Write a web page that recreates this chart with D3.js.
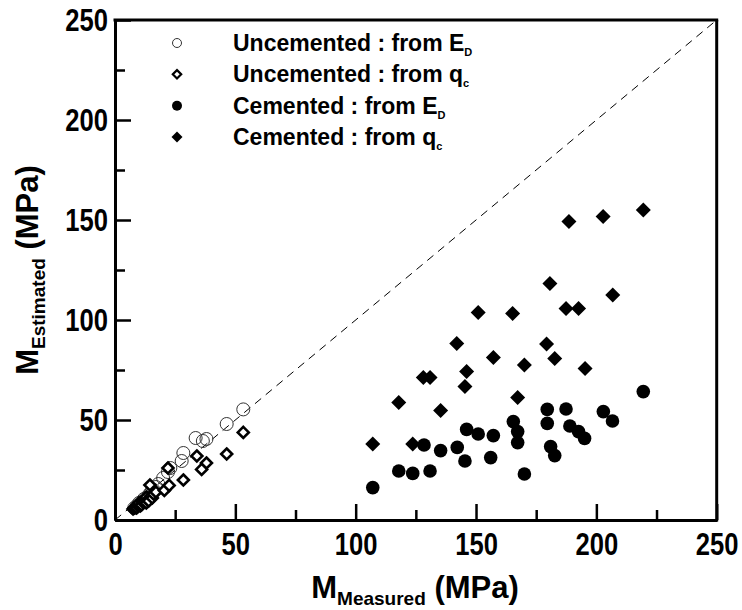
<!DOCTYPE html>
<html>
<head>
<meta charset="utf-8">
<title>M estimated vs measured</title>
<script src="https://d3js.org/d3.v7.min.js"></script>
<style>
  body { margin: 0; background: #fff; }
  text { font-family: "Liberation Sans", Arial, sans-serif; font-weight: bold; fill: #000; }
</style>
</head>
<body>
<script>
// data: [M measured, M estimated] in MPa
var uncementedED = [
  [8, 6], [9, 7], [10, 8.5], [11, 9], [12, 10.5], [13, 11], [14, 12.5], [15, 14],
  [16, 15], [17, 16.5], [18, 18], [20, 21], [22, 24], [23, 26], [27.7, 29.5],
  [28.4, 33.5], [33.5, 41], [36.5, 39.5], [38, 40.5], [46.4, 48], [53.3, 55.3]
];
var uncementedQc = [
  [7.5, 5.5], [8, 6], [8.5, 6.5], [9, 6], [9.5, 7], [10, 8.5], [10.5, 7], [11, 7.5],
  [11.5, 9], [12, 9], [12.5, 10.5], [13, 8.5], [13, 11.5], [13.5, 10], [14, 9.5],
  [15, 12], [15.5, 11], [14.5, 17.5], [16, 13], [17, 14], [20.5, 14.8],
  [22.5, 17.3], [22, 26], [28.4, 20], [34, 32], [38, 28.5], [36, 25.3],
  [46.4, 33], [53.3, 43.8]
];
var cementedED = [
  [107.1, 16.2], [117.9, 24.5], [123.7, 23.3], [130.9, 24.5], [128.4, 37.5],
  [135.3, 34.7], [142.2, 36.3], [145.4, 29.5], [146.1, 45.3], [150.9, 43],
  [157.2, 42.2], [156.1, 31.2], [165.5, 49.2], [167.3, 44.2], [167.3, 38.7],
  [170.1, 23], [179.6, 55.3], [179.6, 48.3], [187.4, 55.5], [181, 36.7],
  [182.7, 32.2], [189, 47], [192.6, 44.2], [195.1, 40.8], [202.9, 54.2],
  [206.7, 49.5], [219.5, 64.2]
];
var cementedQc = [
  [188.6, 149.2], [202.8, 151.7], [219.5, 155], [180.7, 118.3], [150.9, 103.7],
  [165.2, 103.3], [187.4, 105.8], [192.6, 105.8], [206.8, 112.5], [142, 88.3],
  [179.3, 88], [157.2, 81.3], [170.1, 77.5], [182.7, 80.8], [195.3, 75.8],
  [128.1, 71.3], [130.9, 71.3], [146.1, 74.2], [145.4, 66.7], [117.9, 58.7],
  [135.3, 54.7], [167.3, 61.2], [107.1, 38], [123.7, 38]
];
var majorTicks = [0, 50, 100, 150, 200, 250];
var minorTicks = [25, 75, 125, 175, 225];
var legendItems = [
  { name: "Uncemented : from E", sub: "D", kind: "openCircle" },
  { name: "Uncemented : from q", sub: "c", kind: "openDiamond" },
  { name: "Cemented : from E", sub: "D", kind: "fillCircle" },
  { name: "Cemented : from q", sub: "c", kind: "fillDiamond" }
];

var width = 742, height = 610;
var plotLeft = 115, plotRight = 716.7, plotTop = 20, plotBottom = 520;

var svg = d3.select("body").append("svg")
  .attr("width", width)
  .attr("height", height);

var x = d3.scaleLinear().domain([0, 250]).range([plotLeft, plotRight]);
var y = d3.scaleLinear().domain([0, 250]).range([plotBottom, plotTop]);

// 1:1 line
svg.append("line")
  .attr("x1", x(0)).attr("y1", y(0))
  .attr("x2", x(250)).attr("y2", y(250))
  .attr("stroke", "#000")
  .attr("stroke-width", 1)
  .attr("stroke-dasharray", "8,6");

// axes: ticks point inward
var xMajor = svg.append("g").attr("transform", "translate(0," + plotBottom + ")")
  .call(d3.axisBottom(x).tickValues(majorTicks).tickSizeInner(-16).tickSizeOuter(0).tickPadding(12));
svg.append("g").attr("transform", "translate(0," + plotBottom + ")")
  .call(d3.axisBottom(x).tickValues(minorTicks).tickSizeInner(-10).tickSizeOuter(0).tickFormat(""));
var yMajor = svg.append("g").attr("transform", "translate(" + plotLeft + ",0)")
  .call(d3.axisLeft(y).tickValues(majorTicks).tickSizeInner(-16).tickSizeOuter(0).tickPadding(7));
svg.append("g").attr("transform", "translate(" + plotLeft + ",0)")
  .call(d3.axisLeft(y).tickValues(minorTicks).tickSizeInner(-10).tickSizeOuter(0).tickFormat(""));

svg.selectAll(".domain").attr("stroke", "#000").attr("stroke-width", 3);
svg.selectAll(".tick line").attr("stroke", "#000").attr("stroke-width", 2.5);
svg.selectAll(".tick text")
  .style("font-family", "'Liberation Sans', Arial, sans-serif")
  .style("font-weight", "bold")
  .style("font-size", "32px")
  .attr("fill", "#000");
xMajor.selectAll(".tick text").attr("transform", "scale(0.8,1)");
yMajor.selectAll(".tick text").attr("transform", "scale(0.8,1)").attr("x", -7 / 0.8);

// top and right frame
svg.append("line").attr("x1", plotLeft - 1.5).attr("x2", plotRight + 1.5).attr("y1", plotTop).attr("y2", plotTop)
  .attr("stroke", "#000").attr("stroke-width", 3);
svg.append("line").attr("x1", plotRight).attr("x2", plotRight).attr("y1", plotTop).attr("y2", plotBottom + 1.5)
  .attr("stroke", "#000").attr("stroke-width", 3);

var diamond = function (s) {
  return "M0," + (-s) + "L" + s + ",0L0," + s + "L" + (-s) + ",0Z";
};

// uncemented
svg.append("g").selectAll("circle")
  .data(uncementedED).enter().append("circle")
  .attr("cx", function (d) { return x(d[0]); })
  .attr("cy", function (d) { return y(d[1]); })
  .attr("r", 6.5)
  .attr("fill", "none")
  .attr("stroke", "#333")
  .attr("stroke-width", 1);

svg.append("g").selectAll("path")
  .data(uncementedQc).enter().append("path")
  .attr("transform", function (d) { return "translate(" + x(d[0]) + "," + y(d[1]) + ")"; })
  .attr("d", diamond(5.5))
  .attr("fill", "#fff")
  .attr("stroke", "#000")
  .attr("stroke-width", 2.6);

// cemented
svg.append("g").selectAll("circle")
  .data(cementedED).enter().append("circle")
  .attr("cx", function (d) { return x(d[0]); })
  .attr("cy", function (d) { return y(d[1]); })
  .attr("r", 6.8)
  .attr("fill", "#000");

svg.append("g").selectAll("path")
  .data(cementedQc).enter().append("path")
  .attr("transform", function (d) { return "translate(" + x(d[0]) + "," + y(d[1]) + ")"; })
  .attr("d", diamond(7.5))
  .attr("fill", "#000");

// legend
var legend = svg.append("g");
var rowY = d3.scalePoint().domain(d3.range(legendItems.length)).range([43, 137]);
legendItems.forEach(function (item, i) {
  var g = legend.append("g").attr("transform", "translate(177," + rowY(i) + ")");
  if (item.kind === "openCircle") {
    g.append("circle").attr("r", 4.5).attr("fill", "none").attr("stroke", "#333").attr("stroke-width", 1);
  } else if (item.kind === "openDiamond") {
    g.append("path").attr("d", diamond(4.2)).attr("fill", "#fff").attr("stroke", "#000").attr("stroke-width", 2.2);
  } else if (item.kind === "fillCircle") {
    g.append("circle").attr("r", 5).attr("fill", "#000");
  } else {
    g.append("path").attr("d", diamond(5.5)).attr("fill", "#000");
  }
  var t = g.append("text").attr("x", 56).attr("y", 8).style("font-size", "23px");
  t.append("tspan").text(item.name);
  t.append("tspan").attr("dy", 5).style("font-size", "11px").text(item.sub);
});

// axis titles
var xt = svg.append("text")
  .attr("x", 415).attr("y", 598)
  .attr("text-anchor", "middle")
  .style("font-size", "31px");
xt.append("tspan").text("M");
xt.append("tspan").attr("dy", 7).style("font-size", "19px").text("Measured");
xt.append("tspan").attr("dy", -7).text(" (MPa)");

var yt = svg.append("text")
  .attr("transform", "translate(38,270) rotate(-90)")
  .attr("text-anchor", "middle")
  .style("font-size", "31px");
yt.append("tspan").text("M");
yt.append("tspan").attr("dy", 7).style("font-size", "19px").text("Estimated");
yt.append("tspan").attr("dy", -7).text(" (MPa)");
</script>
</body>
</html>
